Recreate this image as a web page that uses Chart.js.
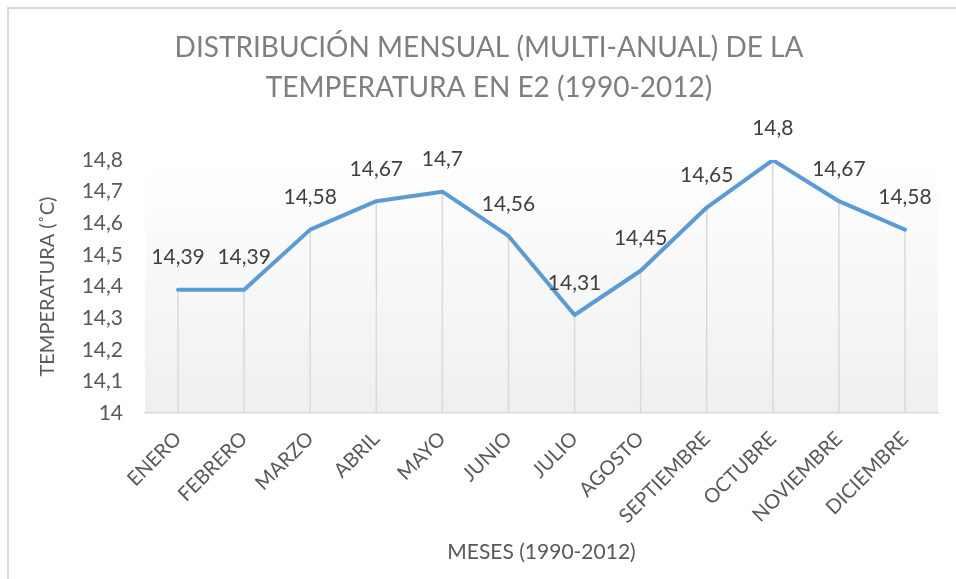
<!DOCTYPE html>
<html>
<head>
<meta charset="utf-8">
<script src="https://cdn.jsdelivr.net/npm/chart.js@4.4.1/dist/chart.umd.min.js"></script>
<style>
    body { margin: 0; background: #fff; }
    #frame { position: absolute; left: 7px; top: 7px; width: 980px; height: 600px;
             border-top: 2px solid #d9d9d9; border-left: 2px solid #d9d9d9; }
    #c { position: absolute; left: 0; top: 0; }
</style>
</head>
<body>
<div id="frame"></div>
<canvas id="c" width="956" height="579"></canvas>
<script>
    var months = ['ENERO', 'FEBRERO', 'MARZO', 'ABRIL', 'MAYO', 'JUNIO', 'JULIO',
        'AGOSTO', 'SEPTIEMBRE', 'OCTUBRE', 'NOVIEMBRE', 'DICIEMBRE'];

    var temperatures = [14.39, 14.39, 14.58, 14.67, 14.7, 14.56, 14.31, 14.45, 14.65, 14.8, 14.67, 14.58];

    var yMin = 14;
    var yMax = 14.8;
    var yStep = 0.1;

    var chartTitle = ['DISTRIBUCIÓN MENSUAL (MULTI-ANUAL) DE LA', 'TEMPERATURA EN E2 (1990-2012)'];
    var xTitle = 'MESES (1990-2012)';
    var yTitle = 'TEMPERATURA (˚C)';

    var fontFamily = 'Lato, "Open Sans", sans-serif';

    function toComma(value) {
        return String(Math.round(value * 100) / 100).replace('.', ',');
    }

    // light gradient behind the plot area
    var plotBackground = {
        id: 'plotBackground',
        beforeDraw: function (chart) {
            var area = chart.chartArea;
            var ctx = chart.ctx;
            var gradient = ctx.createLinearGradient(0, area.top, 0, area.bottom);
            gradient.addColorStop(0, '#ffffff');
            gradient.addColorStop(1, '#efefef');
            ctx.save();
            ctx.fillStyle = gradient;
            ctx.fillRect(area.left, area.top, area.right - area.left, area.bottom - area.top);
            ctx.restore();
        }
    };

    // vertical drop lines from each point to the axis
    var dropLines = {
        id: 'dropLines',
        beforeDatasetsDraw: function (chart) {
            var ctx = chart.ctx;
            var meta = chart.getDatasetMeta(0);
            var bottom = chart.scales.y.getPixelForValue(yMin);
            ctx.save();
            ctx.strokeStyle = '#d9d9d9';
            ctx.lineWidth = 1.5;
            meta.data.forEach(function (point) {
                ctx.beginPath();
                ctx.moveTo(point.x, point.y);
                ctx.lineTo(point.x, bottom);
                ctx.stroke();
            });
            ctx.restore();
        }
    };

    var valueLabels = {
        id: 'valueLabels',
        afterDatasetsDraw: function (chart) {
            var ctx = chart.ctx;
            var meta = chart.getDatasetMeta(0);
            ctx.save();
            ctx.font = '21px ' + fontFamily;
            ctx.fillStyle = '#404040';
            ctx.textAlign = 'center';
            ctx.textBaseline = 'middle';
            meta.data.forEach(function (point, i) {
                ctx.fillText(toComma(temperatures[i]), point.x, point.y - 32);
            });
            ctx.restore();
        }
    };

    new Chart(document.getElementById('c'), {
        type: 'line',
        data: {
            labels: months,
            datasets: [{
                data: temperatures,
                borderColor: '#5b9bd5',
                backgroundColor: '#5b9bd5',
                borderWidth: 4,
                borderJoinStyle: 'round',
                borderCapStyle: 'round',
                pointRadius: 0,
                tension: 0,
                fill: false
            }]
        },
        options: {
            responsive: false,
            animation: false,
            devicePixelRatio: 1,
            layout: {
                padding: { left: 40, right: 18, top: 0, bottom: 0 }
            },
            plugins: {
                legend: { display: false },
                tooltip: { enabled: false },
                title: {
                    display: true,
                    text: chartTitle,
                    color: '#7f7f7f',
                    font: { family: fontFamily, size: 28, weight: 'normal', lineHeight: 1.43 },
                    padding: { top: 28, bottom: 52 }
                }
            },
            scales: {
                x: {
                    offset: true,
                    grid: { display: false },
                    border: { display: true, color: '#d9d9d9', width: 1.5 },
                    ticks: {
                        color: '#595959',
                        font: { family: fontFamily, size: 20 },
                        minRotation: 45,
                        maxRotation: 45,
                        padding: 6
                    },
                    title: {
                        display: true,
                        text: xTitle,
                        color: '#595959',
                        font: { family: fontFamily, size: 21 },
                        padding: { top: 4, bottom: 14 }
                    },
                    afterFit: function (scale) {
                        scale.height = 166;
                    }
                },
                y: {
                    min: yMin,
                    max: yMax,
                    grid: { display: false, drawTicks: false },
                    border: { display: false },
                    ticks: {
                        stepSize: yStep,
                        color: '#595959',
                        font: { family: fontFamily, size: 21 },
                        padding: 22,
                        callback: function (value) {
                            return toComma(value);
                        }
                    },
                    title: {
                        display: true,
                        text: yTitle,
                        color: '#595959',
                        font: { family: fontFamily, size: 20, lineHeight: 1 },
                        padding: { top: -2, bottom: 0 }
                    },
                    afterFit: function (scale) {
                        scale.width = 105;
                    }
                }
            }
        },
        plugins: [plotBackground, dropLines, valueLabels]
    });
</script>
</body>
</html>
